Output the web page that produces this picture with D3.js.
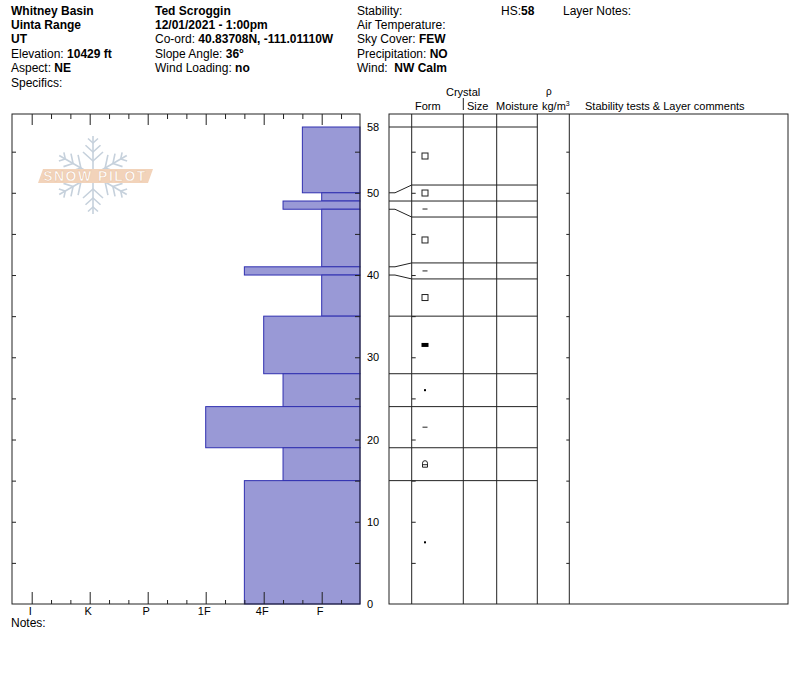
<!DOCTYPE html>
<html>
<head>
<meta charset="utf-8">
<script src="https://cdn.jsdelivr.net/npm/d3@7"></script>
<style>
  body { margin: 0; background: #fff; }
  svg { display: block; font-family: "Liberation Sans", Arial, sans-serif; }
</style>
</head>
<body>
<div id="profile"></div>
<script>
// layer data, depths in cm from ground
var layerTop    = [58, 50, 49, 48, 41, 40, 35, 28, 24, 19, 15];
var layerBottom = [50, 49, 48, 41, 40, 35, 28, 24, 19, 15, 0];
var layerHardness = ["F+", "F", "4F-", "F", "4F+", "F", "4F", "4F-", "1F", "4F-", "4F+"];
var layerForm = ["FC", "FC", "IF", "FC", "IF", "FC", "FCxr", "RG", "IF", "MFcr", "RG"];

var hardnessLabels = ["F", "4F", "1F", "P", "K", "I"];
var depthLabels = [0, 10, 20, 30, 40, 50, 58];

var headerCol1 = [["Whitney Basin", ""], ["Uinta Range", ""], ["UT", ""], ["Elevation: ", "10429 ft"], ["Aspect: ", "NE"], ["Specifics:", null]];
var headerCol2 = [["Ted Scroggin", ""], ["12/01/2021 - 1:00pm", ""], ["Co-ord: ", "40.83708N, -111.01110W"], ["Slope Angle: ", "36°"], ["Wind Loading: ", "no"]];
var headerCol3 = [["Stability:", null], ["Air Temperature:", null], ["Sky Cover: ", "FEW"], ["Precipitation: ", "NO"], ["Wind:\u00a0 ", "NW Calm"]];

width = 800;
height = 676;
var plotLeft = 12, plotRight = 360, plotTop = 114, plotBottom = 604;
var tableLeft = 389, tableRight = 788;
var cols = [389, 411.7, 463.3, 496.7, 537.3, 569.3, 788];

var svg = d3.select("#profile").append("svg")
  .attr("width", width)
  .attr("height", height);

svg.append("rect").attr("width", width).attr("height", height).attr("fill", "#fff");

// header text
function headerBlock(lines, x) {
  lines.forEach(function (l, i) {
    var t = svg.append("text")
      .attr("x", x)
      .attr("y", 14.5 + i * 14.4)
      .attr("font-size", 12);
    if (l[1] === "") {
      t.attr("font-weight", "bold").text(l[0]);
    } else {
      t.append("tspan").text(l[0]);
      if (l[1]) t.append("tspan").attr("font-weight", "bold").text(l[1]);
    }
  });
}
headerBlock(headerCol1, 11);
headerBlock(headerCol2, 155);
headerBlock(headerCol3, 357);
headerBlock([["HS:", "58"]], 501);
headerBlock([["Layer Notes:", null]], 563);

// scales
function hardIndex(h) {
  var base = h.replace(/[+-]$/, "");
  var idx = hardnessLabels.indexOf(base);
  if (h.endsWith("+")) idx += 1 / 3;
  if (h.endsWith("-")) idx -= 1 / 3;
  return idx;
}

var y = d3.scaleLinear().domain([0, 58]).range([plotBottom, 127]);
var x = d3.scaleLinear().domain([0, 5]).range([321.7, 31.7]);

// snowpilot watermark
var logo = svg.append("g").attr("transform", "translate(93,175)");
var flake = logo.append("g").attr("stroke", "#c6d1dc").attr("stroke-width", 1.6).attr("fill", "none");
d3.range(6).forEach(function (k) {
  var arm = flake.append("g").attr("transform", "rotate(" + (k * 60) + ")");
  arm.append("line").attr("x1", 0).attr("y1", 0).attr("x2", 0).attr("y2", -39);
  [-14, -23, -32].forEach(function (p, j) {
    var s = 10 - j * 2.5;
    arm.append("polyline").attr("points", (-s) + "," + (p - s * 0.9) + " 0," + p + " " + s + "," + (p - s * 0.9));
  });
});
logo.append("path")
  .attr("d", "M-50,-6 L60,-6 L55,8 L-55,8 Z")
  .attr("fill", "#f2d3ba");
logo.append("text")
  .attr("x", 2).attr("y", 6)
  .attr("text-anchor", "middle")
  .attr("font-size", 14)
  .attr("font-weight", "bold")
  .attr("letter-spacing", 1.5)
  .attr("fill", "#fff")
  .attr("stroke", "#e8c0a0")
  .attr("stroke-width", 0.5)
  .text("SNOW PILOT");

// hardness bars
svg.append("g")
  .attr("class", "bars")
  .selectAll("rect")
  .data(layerTop)
  .join("rect")
  .attr("x", function (d, i) { return x(hardIndex(layerHardness[i])); })
  .attr("y", function (d) { return y(d); })
  .attr("width", function (d, i) { return plotRight - x(hardIndex(layerHardness[i])); })
  .attr("height", function (d, i) { return y(layerBottom[i]) - y(d); })
  .attr("fill", "#9999d6")
  .attr("stroke", "#3030b0")
  .attr("stroke-width", 1);

// plot frame
svg.append("rect")
  .attr("x", plotLeft).attr("y", plotTop)
  .attr("width", plotRight - plotLeft).attr("height", plotBottom - plotTop)
  .attr("fill", "none").attr("stroke", "#222");

function noDomain(g) {
  g.attr("color", "#000");
  g.select(".domain").remove();
  g.selectAll("line").attr("stroke", "#222");
  g.selectAll("text").attr("font-size", 11).attr("fill", "#000").attr("font-family", "Liberation Sans, Arial");
}

var majorH = d3.range(0, 6);
var minorH = d3.range(-1, 15).map(function (d) { return d / 3; }).filter(function (d) { return Math.abs(d - Math.round(d)) > 0.01; });

// bottom axis with hardness labels
svg.append("g")
  .attr("transform", "translate(0," + plotBottom + ")")
  .call(d3.axisBottom(x).tickValues(majorH).tickSize(-12).tickPadding(3)
    .tickFormat(function (d) { return hardnessLabels[d]; }))
  .call(noDomain)
  .selectAll("text").attr("dx", -2);
svg.append("g")
  .attr("transform", "translate(0," + plotBottom + ")")
  .call(d3.axisBottom(x).tickValues(minorH).tickSize(-4).tickFormat(""))
  .call(noDomain);

// top axis ticks
svg.append("g")
  .attr("transform", "translate(0," + plotTop + ")")
  .call(d3.axisTop(x).tickValues(majorH).tickSize(-11).tickFormat(""))
  .call(noDomain);
svg.append("g")
  .attr("transform", "translate(0," + plotTop + ")")
  .call(d3.axisTop(x).tickValues(minorH).tickSize(-5).tickFormat(""))
  .call(noDomain);

// depth ticks on both sides of the plot
var fiveTicks = d3.range(5, 58, 5);
svg.append("g")
  .attr("transform", "translate(" + plotLeft + ",0)")
  .call(d3.axisRight(y).tickValues(fiveTicks).tickSize(4).tickFormat(""))
  .call(noDomain);
svg.append("g")
  .attr("transform", "translate(" + plotRight + ",0)")
  .call(d3.axisLeft(y).tickValues(fiveTicks).tickSize(5).tickFormat(""))
  .call(noDomain);
svg.append("g")
  .attr("transform", "translate(" + plotRight + ",0)")
  .call(d3.axisRight(y).tickValues(depthLabels).tickSize(0).tickPadding(7))
  .call(noDomain);

svg.append("text").attr("x", 11).attr("y", 627).attr("font-size", 12).text("Notes:");

// table frame and columns
var table = svg.append("g").attr("stroke", "#222").attr("fill", "none");
table.append("rect")
  .attr("x", tableLeft).attr("y", plotTop)
  .attr("width", tableRight - tableLeft).attr("height", plotBottom - plotTop);
cols.slice(1, -1).forEach(function (c) {
  table.append("line").attr("x1", c).attr("x2", c).attr("y1", plotTop).attr("y2", plotBottom);
});
table.append("line").attr("x1", 463.3).attr("x2", 463.3).attr("y1", 98).attr("y2", 110);

svg.append("g")
  .attr("transform", "translate(" + cols[1] + ",0)")
  .call(d3.axisLeft(y).tickValues(fiveTicks).tickSize(-4).tickFormat(""))
  .call(noDomain);
svg.append("g")
  .attr("transform", "translate(" + cols[5] + ",0)")
  .call(d3.axisLeft(y).tickValues(fiveTicks).tickSize(3).tickFormat(""))
  .call(noDomain);

// table headings
function heading(txt, xx, yy, fs) {
  svg.append("text").attr("x", xx).attr("y", yy).attr("font-size", fs || 11).text(txt);
}
heading("Crystal", 446, 96);
heading("Form", 415, 110);
heading("Size", 467, 110);
heading("Moisture", 496, 110);
heading("ρ", 546, 95, 10);
var kg = svg.append("text").attr("x", 542).attr("y", 110).attr("font-size", 11);
kg.append("tspan").text("kg/m");
kg.append("tspan").attr("font-size", 7).attr("dy", -4).text("3");
heading("Stability tests & Layer comments", 585, 110);

// spread thin layers so every row is at least minH tall
var minH = 16;
var n = layerTop.length;
var realB = layerTop.map(function (d) { return y(d); }).concat([y(0)]);
var dispB = realB.slice();
var i = 0;
while (i < n) {
  if (realB[i + 1] - realB[i] < minH) {
    var j = i;
    while (j + 1 < n && realB[j + 2] - realB[j + 1] < minH) j++;
    var c = (realB[i] + realB[j + 1]) / 2;
    var top0 = c - (j - i + 1) * minH / 2;
    for (var k = i; k <= j + 1; k++) dispB[k] = top0 + (k - i) * minH;
    i = j + 1;
  } else {
    i++;
  }
}

svg.append("g")
  .selectAll("path")
  .data(realB.slice(0, n))
  .join("path")
  .attr("d", function (d, k) {
    return "M" + cols[0] + "," + d + "L395," + d + "L" + cols[1] + "," + dispB[k] + "L" + cols[4] + "," + dispB[k];
  })
  .attr("fill", "none")
  .attr("stroke", "#222");

// grain form symbols
var sym = svg.append("g").attr("stroke", "#222").attr("fill", "none");
layerForm.forEach(function (f, k) {
  var cy = (dispB[k] + dispB[k + 1]) / 2, cx = 425;
  if (f === "FC") {
    sym.append("rect").attr("x", cx - 3).attr("y", cy - 3).attr("width", 6).attr("height", 6);
  } else if (f === "FCxr") {
    sym.append("rect").attr("x", cx - 3.5).attr("y", cy - 2).attr("width", 7).attr("height", 4).attr("fill", "#000").attr("stroke", "none");
  } else if (f === "IF") {
    sym.append("line").attr("x1", cx - 2.5).attr("x2", cx + 2.5).attr("y1", cy).attr("y2", cy);
  } else if (f === "RG") {
    sym.append("rect").attr("x", cx - 1).attr("y", cy - 1).attr("width", 2).attr("height", 2).attr("fill", "#000").attr("stroke", "none");
  } else if (f === "MFcr") {
    sym.append("path").attr("d", "M" + (cx - 2.5) + "," + (cy + 3) + "V" + (cy - 1) + "A2.5,2.5 0 0 1 " + (cx + 2.5) + "," + (cy - 1) + "V" + (cy + 3) + "Z");
    sym.append("line").attr("x1", cx - 2.5).attr("x2", cx + 2.5).attr("y1", cy + 0.5).attr("y2", cy + 0.5);
  }
});
</script>
</body>
</html>
